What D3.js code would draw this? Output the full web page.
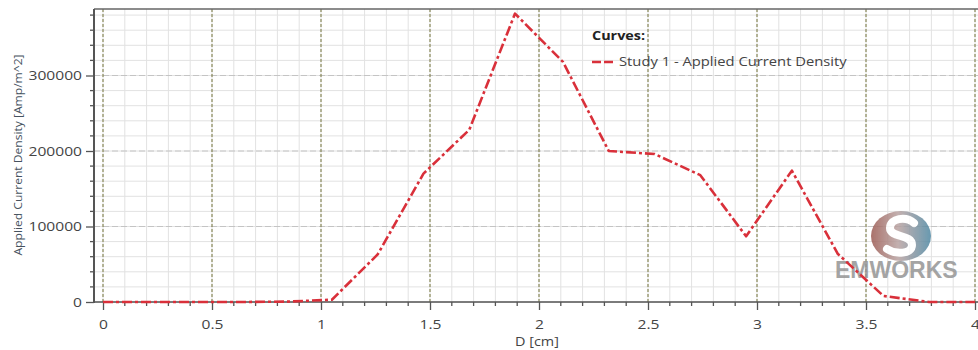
<!DOCTYPE html>
<html><head><meta charset="utf-8">
<script src="https://cdn.jsdelivr.net/npm/d3@7"></script>
<style>html,body{margin:0;padding:0;background:#fff;}svg{display:block;}</style>
</head><body>
<svg id="c" width="978" height="350"></svg>
<script>
// Data
const dValues = [0, 0.21, 0.42, 0.63, 0.84, 1.05, 1.26, 1.47, 1.68, 1.89, 2.11, 2.32, 2.53, 2.74, 2.95, 3.16, 3.37, 3.58, 3.79, 4.0];
const densityValues = [0, 0, 0, 0, 500, 3000, 63000, 170000, 228000, 382000, 318000, 200000, 196000, 168000, 87000, 174000, 64000, 8000, 0, 0];
const xTickLabels = ["0", "0.5", "1", "1.5", "2", "2.5", "3", "3.5", "4"];
const yTickLabels = ["0", "100000", "200000", "300000"];
const seriesName = "Study 1 - Applied Current Density";
const legendTitle = "Curves:";
const xTitle = "D [cm]";
const yTitle = "Applied Current Density [Amp/m^2]";

(function () {
const svg = d3.select("#c");
const pL = 94, pR = 978, pT = 9, pB = 302;
const x = d3.scaleLinear().domain([0, 4]).range([103, 975]);
const y = d3.scaleLinear().domain([0, 400000]).range([302, 0]);
const stretch = (sel, k) => sel.each(function () {
  const w = this.getComputedTextLength();
  d3.select(this).attr("textLength", w * k).attr("lengthAdjust", "spacingAndGlyphs");
});

// minor grid
const g = svg.append("g");
const xMinor = d3.range(0, 40.5).map(i => i / 10);
const yMinor = d3.range(0, 20).map(i => i * 20000);
g.selectAll(".vx").data(xMinor).join("line")
  .attr("x1", d => x(d)).attr("x2", d => x(d)).attr("y1", pT).attr("y2", pB)
  .attr("stroke", "#e2e2e2").attr("stroke-width", 1);
g.selectAll(".hy").data(yMinor).join("line")
  .attr("x1", pL).attr("x2", pR).attr("y1", d => y(d)).attr("y2", d => y(d))
  .attr("stroke", "#e2e2e2").attr("stroke-width", 1);
// major grid
const yMajor = yTickLabels.map(Number);
const xMajor = xTickLabels.map(Number);
g.selectAll(".hm").data(yMajor.slice(1)).join("line")
  .attr("x1", pL).attr("x2", pR).attr("y1", d => y(d)).attr("y2", d => y(d))
  .attr("stroke", "#c4c4c4").attr("stroke-width", 1).attr("stroke-dasharray", "6,3");
g.selectAll(".vm").data(xMajor).join("line")
  .attr("x1", d => x(d)).attr("x2", d => x(d)).attr("y1", pT).attr("y2", pB)
  .attr("stroke", "#80804c").attr("stroke-width", 1.1).attr("stroke-dasharray", "3,2");

// logo
const defs = svg.append("defs");
const lg = defs.append("linearGradient").attr("id", "lg").attr("x1", "0").attr("x2", "1").attr("y1", "0").attr("y2", "0");
lg.append("stop").attr("offset", "0").attr("stop-color", "#9c5a52");
lg.append("stop").attr("offset", "0.45").attr("stop-color", "#b9a3a2");
lg.append("stop").attr("offset", "1").attr("stop-color", "#4f88a3");
const logo = svg.append("g").attr("opacity", 0.85);
logo.append("ellipse").attr("cx", 901).attr("cy", 236).attr("rx", 30).attr("ry", 25).attr("fill", "url(#lg)");
logo.append("path")
  .attr("d", "M914,223 C906,216 890,218 890,228 C890,238 912,234 912,245 C912,254 896,255 887,249")
  .attr("fill", "none").attr("stroke", "#fff").attr("stroke-width", 8).attr("stroke-linecap", "round");
logo.append("text").attr("x", 835).attr("y", 278)
  .attr("font-family", "Liberation Sans, Arial, sans-serif").attr("font-weight", "bold").attr("font-size", 23)
  .attr("fill", "#959595").text("EMWORKS");

// frame
svg.append("line").attr("x1", pL).attr("x2", pR).attr("y1", pT).attr("y2", pT).attr("stroke", "#666").attr("stroke-width", 1.5);
svg.append("line").attr("x1", pL).attr("x2", pR).attr("y1", pB).attr("y2", pB).attr("stroke", "#555").attr("stroke-width", 1.5);
svg.append("line").attr("x1", pL).attr("x2", pL).attr("y1", pT).attr("y2", pB + 1).attr("stroke", "#555").attr("stroke-width", 2);

// axes
const yAxis = d3.axisLeft(y).tickValues(yMajor).tickFormat((d, i) => yTickLabels[i]).tickSize(8).tickPadding(4);
const ya = svg.append("g").attr("transform", `translate(${pL},0)`).call(yAxis);
const xAxis = d3.axisBottom(x).tickValues(xMajor).tickFormat((d, i) => xTickLabels[i]).tickSize(8).tickPadding(10);
const xa = svg.append("g").attr("transform", `translate(0,${pB})`).call(xAxis);
[ya, xa].forEach(a => {
  a.select(".domain").remove();
  a.selectAll(".tick line").attr("stroke", "#555").attr("stroke-width", 1.3);
  a.selectAll("text").attr("font-family", "Open Sans, sans-serif").attr("font-size", 13).attr("fill", "#444");
});
stretch(ya.selectAll("text"), 1.2);
stretch(xa.selectAll("text"), 1.2);
// minor ticks
svg.append("g").selectAll("line").data(yMinor.filter(d => d % 100000 !== 0)).join("line")
  .attr("x1", pL - 4).attr("x2", pL).attr("y1", d => y(d)).attr("y2", d => y(d)).attr("stroke", "#555").attr("stroke-width", 1.3);
svg.append("g").selectAll("line").data(xMinor.filter(d => Math.abs(d * 2 - Math.round(d * 2)) > 1e-6)).join("line")
  .attr("x1", d => x(d)).attr("x2", d => x(d)).attr("y1", pB).attr("y2", pB + 4).attr("stroke", "#555").attr("stroke-width", 1.3);

// titles
stretch(svg.append("text").attr("x", 537).attr("y", 346).attr("text-anchor", "middle")
  .attr("font-family", "Open Sans, sans-serif").attr("font-size", 12.5).attr("fill", "#444").text(xTitle), 1.15);
stretch(svg.append("text").attr("transform", "translate(22,155) rotate(-90)").attr("text-anchor", "middle")
  .attr("font-family", "Open Sans, sans-serif").attr("font-size", 11.5).attr("fill", "#46525e").text(yTitle), 1.05);

// series line
const pts = dValues.map((d, i) => [d, densityValues[i]]);
const line = d3.line().x(d => x(d[0])).y(d => y(d[1]));
svg.append("path").datum(pts).attr("d", line).attr("fill", "none")
  .attr("stroke", "#d9303a").attr("stroke-width", 2.6).attr("stroke-dasharray", "10,3,3,3")
  .attr("stroke-linejoin", "round");

// legend
stretch(svg.append("text").attr("x", 592).attr("y", 40).attr("font-family", "Open Sans, sans-serif")
  .attr("font-weight", "bold").attr("font-size", 11.5).attr("fill", "#222").text(legendTitle), 1.25);
svg.append("line").attr("x1", 592).attr("x2", 615).attr("y1", 62).attr("y2", 62)
  .attr("stroke", "#d9303a").attr("stroke-width", 2.6).attr("stroke-dasharray", "9,3");
stretch(svg.append("text").attr("x", 619).attr("y", 66).attr("font-family", "Open Sans, sans-serif")
  .attr("font-size", 12.5).attr("fill", "#444").text(seriesName), 1.18);
})();
</script>
</body></html>
